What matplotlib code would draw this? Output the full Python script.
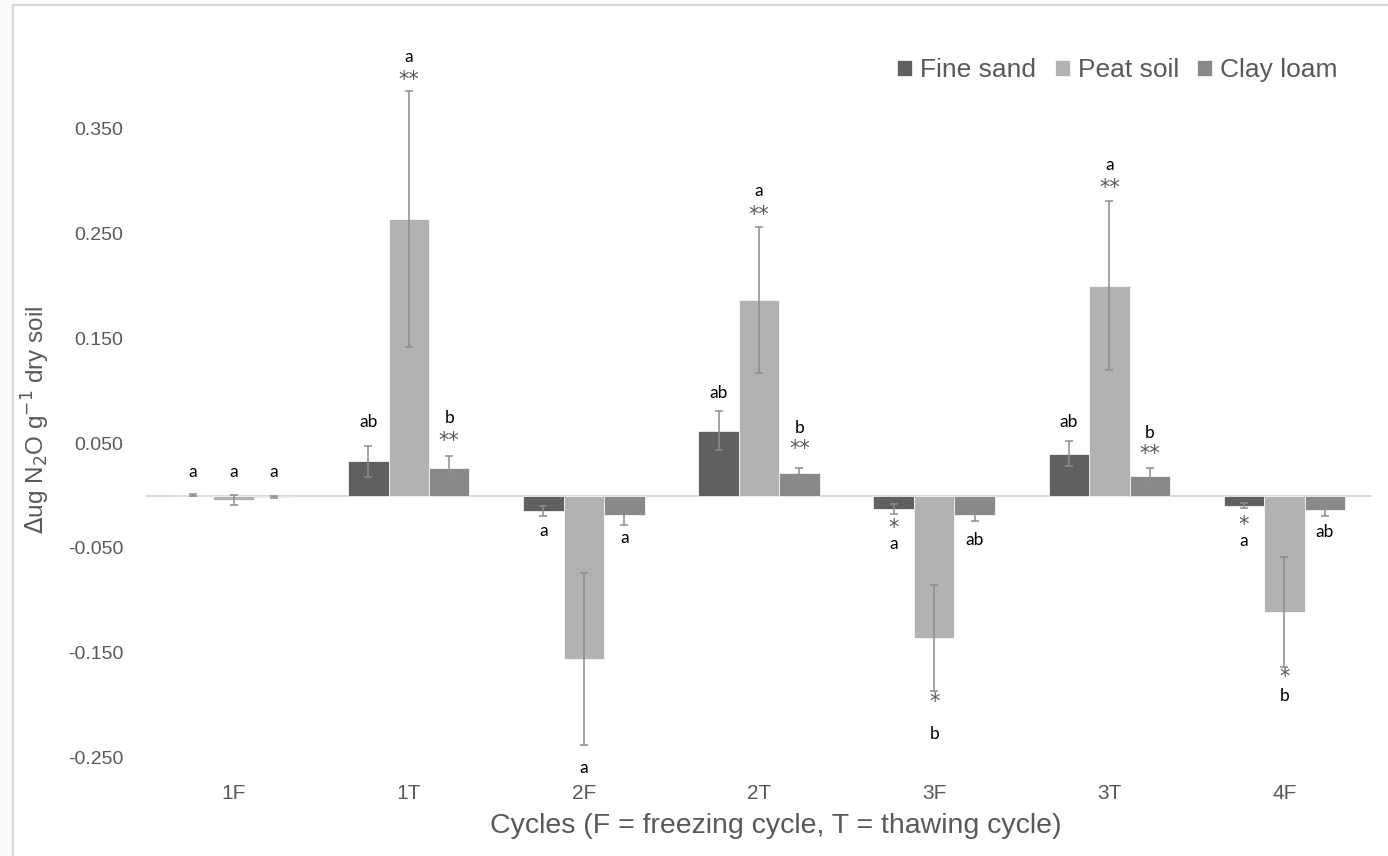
import numpy as np
import matplotlib.pyplot as plt
from matplotlib.patches import Rectangle

cycles = ['1F', '1T', '2F', '2T', '3F', '3T', '4F']
series = ['Fine sand', 'Peat soil', 'Clay loam']

fine_sand = [0.0005, 0.0325, -0.015, 0.062, -0.0127, 0.0398, -0.0096]
peat_soil = [-0.004, 0.2637, -0.156, 0.1864, -0.1361, 0.2003, -0.1113]
clay_loam = [-0.001, 0.0265, -0.0185, 0.0217, -0.0188, 0.0185, -0.0137]

fine_err = [0.001, 0.0145, 0.005, 0.019, 0.0046, 0.012, 0.0022]
peat_err = [0.0046, 0.1222, 0.0825, 0.0696, 0.0508, 0.0806, 0.0527]
clay_err = [0.001, 0.0113, 0.010, 0.0048, 0.0053, 0.0075, 0.0062]

# significance labels: (cycle index, series index, text, y)
labels = [
    (0, 0, 'a', 0.022), (0, 1, 'a', 0.022), (0, 2, 'a', 0.022),
    (1, 0, 'ab', 0.0697), (1, 1, '**', 0.397), (1, 1, 'a', 0.418),
    (1, 2, '**', 0.0516), (1, 2, 'b', 0.0735),
    (2, 0, 'a', -0.0334), (2, 1, 'a', -0.260), (2, 2, 'a', -0.0401),
    (3, 0, 'ab', 0.0974), (3, 1, '**', 0.268), (3, 1, 'a', 0.291),
    (3, 2, '**', 0.044), (3, 2, 'b', 0.064),
    (4, 0, '*', -0.0306), (4, 0, 'a', -0.0458), (4, 1, '*', -0.197),
    (4, 1, 'b', -0.228), (4, 2, 'ab', -0.042),
    (5, 0, 'ab', 0.0697), (5, 1, '**', 0.293), (5, 1, 'a', 0.315),
    (5, 2, '**', 0.040), (5, 2, 'b', 0.060),
    (6, 0, '*', -0.0277), (6, 0, 'a', -0.043), (6, 1, '*', -0.173),
    (6, 1, 'b', -0.191), (6, 2, 'ab', -0.035),
]

plt.rcParams['font.family'] = ['Liberation Sans', 'DejaVu Sans']

fig = plt.figure(figsize=(13.88, 8.56), dpi=100)
fig.patch.set_facecolor('#f9f9f9')
fig.patches.append(Rectangle((13 / 1388, -0.1), 1.2, (851 + 86) / 856,
                             transform=fig.transFigure, facecolor='white',
                             edgecolor='#d9d9d9', linewidth=1.5, zorder=-5))

ax = fig.add_axes([0.1052, 0.1151, 0.8833, 0.8569])
ax.set_facecolor('none')

x = np.arange(len(cycles))
w = 0.231
colors = ['#606060', '#b2b2b2', '#898989']
values = [fine_sand, peat_soil, clay_loam]
errors = [fine_err, peat_err, clay_err]

for i, (vals, errs) in enumerate(zip(values, errors)):
    ax.bar(x + (i - 1) * w, vals, w, color=colors[i], label=series[i],
           edgecolor='white', linewidth=0.5, zorder=2)
    ax.errorbar(x + (i - 1) * w, vals, yerr=errs, fmt='none',
                ecolor='#8c8c8c', elinewidth=1.1, capsize=3,
                capthick=1.1, zorder=3)

for ci, si, txt, yv in labels:
    if '*' in txt:
        ax.text(x[ci] + (si - 1) * w, yv, txt, ha='center', va='center',
                fontsize=15, color='#595959', family='DejaVu Sans')
    else:
        ax.text(x[ci] + (si - 1) * w, yv, txt, ha='center', va='center',
                fontsize=12.5, color='#000000', family='Lato')

ax.axhline(0, color='#d9d9d9', linewidth=1.5, zorder=1)
ax.set_xlim(-0.5, len(cycles) - 0.5)
ax.set_ylim(-0.25, 0.45)
ax.set_yticks([-0.25, -0.15, -0.05, 0.05, 0.15, 0.25, 0.35])
ax.set_yticklabels(['%.3f' % v for v in ax.get_yticks()])
ax.set_xticks(x)
ax.set_xticklabels(cycles)
ax.tick_params(length=0, labelcolor='#595959')
ax.tick_params(axis='y', pad=16.5, labelsize=14)
ax.tick_params(axis='x', pad=19, labelsize=15)
for s in ax.spines.values():
    s.set_visible(False)

fig.text(776 / 1388, 1 - 826 / 856,
         'Cycles (F = freezing cycle, T = thawing cycle)',
         fontsize=20.5, color='#595959', ha='center', va='center')
ax.set_ylabel(r'$\Delta$ug N$_2$O g$^{-1}$ dry soil', fontsize=17.5,
              color='#595959', labelpad=14)
ax.yaxis.set_label_coords(-0.077, 0.46)

ax.legend(loc='upper right', ncol=3, frameon=False, fontsize=19,
          handlelength=0.57, handleheight=0.57, handletextpad=0.3,
          columnspacing=0.7, bbox_to_anchor=(0.985, 0.975),
          borderaxespad=0.2, labelcolor='#595959')

plt.savefig('out.png', dpi=100, facecolor=fig.get_facecolor())
